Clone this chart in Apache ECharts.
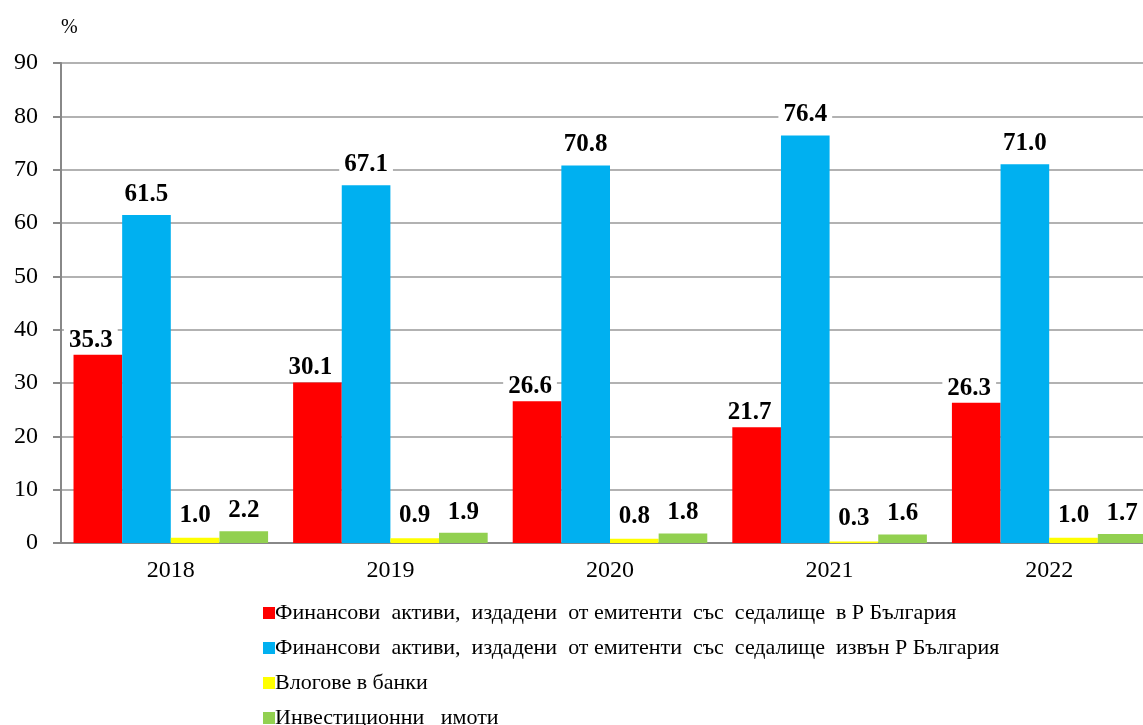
<!DOCTYPE html>
<html><head><meta charset="utf-8">
<script src="https://cdn.jsdelivr.net/npm/echarts@6/dist/echarts.min.js"></script>
<style>html,body{margin:0;padding:0;background:#fff;overflow:hidden}#c{width:1160px;height:725px}</style>
</head><body><div id="c"></div>
<script>
const categories = ['2018','2019','2020','2021','2022'];
const seriesNames = [
  'Финансови  активи,  издадени  от емитенти  със  седалище  в Р България',
  'Финансови  активи,  издадени  от емитенти  със  седалище  извън Р България',
  'Влогове в банки',
  'Инвестиционни   имоти'
];
const domestic = [35.3, 30.1, 26.6, 21.7, 26.3];
const foreign = [61.5, 67.1, 70.8, 76.4, 71.0];
const deposits = [1.0, 0.9, 0.8, 0.3, 1.0];
const realEstate = [2.2, 1.9, 1.8, 1.6, 1.7];
const yTicks = [0,10,20,30,40,50,60,70,80,90];
const colors = ['#ff0000','#00b0f0','#ffff00','#92d050'];
const font = '"Liberation Serif","Times New Roman",serif';

const chart = echarts.init(document.getElementById('c'), null, {renderer:'canvas'});
const mk = (name, data, i, dist, off) => ({
  name, type:'bar', data, barGap:'0%', barCategoryGap:'11.4%',
  itemStyle:{color:colors[i]},
  label:{show:true, position:'top', distance:dist, offset:off, formatter:p=>p.value.toFixed(1),
    fontFamily:font, fontWeight:'bold', fontSize:25, color:'#000',
    backgroundColor:'#fff', padding:[0,5]},
  z: 2
});
const legendTops = [597, 632, 667, 702];
chart.setOption({
  animation:false,
  textStyle:{fontFamily:font},
  grid:{left:61, width:1098, top:63, height:480, containLabel:false},
  xAxis:{type:'category', data:categories,
    axisLine:{lineStyle:{color:'#888', width:2}}, axisTick:{show:false},
    axisLabel:{fontFamily:font, fontSize:24, color:'#000', margin:16}},
  yAxis:{type:'value', min:yTicks[0], max:yTicks[yTicks.length-1], interval:10,
    name:'%', nameLocation:'end', nameGap:25, nameTextStyle:{fontFamily:font, fontSize:20, color:'#000', align:'left'},
    axisLine:{show:true, lineStyle:{color:'#888', width:2}},
    axisTick:{show:true, length:8, lineStyle:{color:'#888', width:2}},
    splitLine:{lineStyle:{color:'#999', width:1.5}},
    axisLabel:{fontFamily:font, fontSize:24, color:'#000', margin:23}},
  legend: seriesNames.map((n, i) => ({
    left:258, top:legendTops[i], itemWidth:12, itemHeight:12, icon:'rect',
    textStyle:{fontFamily:font, fontSize:22, color:'#000', padding:[0,0,0,-5]},
    data:[n]
  })),
  series:[mk(seriesNames[0],domestic,0,2,[-7,0]), mk(seriesNames[1],foreign,1,8,[0,0]),
          mk(seriesNames[2],deposits,2,10,[0,0]), mk(seriesNames[3],realEstate,3,8,[0,0])]
});
</script></body></html>
